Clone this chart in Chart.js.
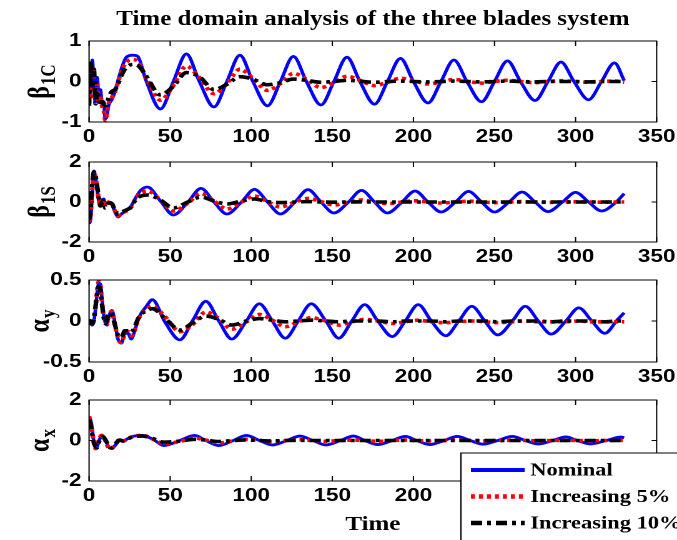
<!DOCTYPE html>
<html>
<head>
<meta charset="utf-8">
<title>Time domain analysis of the three blades system</title>
<script src="https://cdn.jsdelivr.net/npm/chart.js@4.4.1/dist/chart.umd.min.js"></script>
<style>
    html, body { margin: 0; padding: 0; background: #fff; overflow: hidden; }
    /* the original figure is stretched sideways, so draw narrow and widen */
    #stage {
        position: absolute; left: 0; top: 0;
        width: 542px; height: 540px;
        transform-origin: 0 0;
        transform: scaleX(1.2491);
    }
    #stage canvas { position: absolute; left: 0; }
    #title {
        position: absolute; left: 0; top: 7px; width: 597px;
        text-align: center; line-height: 20px;
        font: bold 20px "Liberation Serif", "Times New Roman", serif;
        color: #000; white-space: nowrap;
    }
</style>
</head>
<body>
<div id="stage">
    <div id="title">Time domain analysis of the three blades system</div>
    <canvas id="b1c"></canvas>
    <canvas id="b1s"></canvas>
    <canvas id="ay"></canvas>
    <canvas id="ax"></canvas>
</div>
<script>
const SERIES_NAMES = ['Nominal', 'Increasing 5%', 'Increasing 10%'];

// beta_1C
const T_B1C = [0,1,2,3,4,5,6,7,8,9,10,11,12,14,16,18,20,23,27,30,35,44,52,60,68,77,85,93,101,110,118,126,134,143,151,159,167,176,184,192,200,209,217,225,233,242,250,258,266,275,283,291,299,308,316,324,330];
const B1C_NOM = [-0.5,-0.1,0.53,-0.2,-0.5,0.1,-0.35,-0.2,-0.55,-0.5,-0.92,-0.85,-0.6,-0.45,-0.25,0.05,0.32,0.6,
    0.65,0.62,0.04,-0.68,0,0.68,0,-0.63,0,0.65, 0,-0.6,0,0.62,0,-0.58,0,0.6,0,-0.56,
    0,0.57,0,-0.53,0,0.53,0,-0.5,0,0.51, 0,-0.47,0,0.48,0,-0.45,0,0.46,0.02];
const B1C_5 = [-0.55,0.2,0.35,-0.45,-0.3,-0.1,-0.5,-0.35,-0.6,-0.7,-0.95,-0.8,-0.55,-0.4,-0.25,0,0.25,0.48,
    0.54,0.5,0.12,-0.46,-0.1,0.38,0.1,-0.3,-0.05,0.3, 0.08,-0.22,-0.05,0.2,0.06,-0.15,-0.03,0.13,0.03,-0.1,
    -0.02,0.08,0.02,-0.06,-0.01,0.05,0.01,-0.04,0,0.03, 0,-0.03,0,0.02,0,-0.02,0,0.01,-0.02];
const B1C_10 = [-0.6,0.45,-0.1,0.3,-0.55,-0.3,-0.45,-0.6,-0.5,-0.55,-0.6,-0.55,-0.4,-0.25,-0.2,-0.05,0.15,0.35,
    0.42,0.4,0.15,-0.33,-0.12,0.22,0.12,-0.2,-0.07,0.12, 0.06,-0.08,-0.03,0.06,0.03,-0.02,0,0.03,0.01,-0.02,
    0,0.01,0,-0.01,0,0.01,0,-0.01,0,0.01, 0,-0.01,0,0,0,-0.01,0,0,0];

// beta_1S
const T_B1S = [0,1,2,3,4,5,6,7,8,9,10,11,12,14,16,18,20,23,26,29,32,36,44,52,61,69,77,85,94,102,110,118,127,135,143,151,160,168,176,184,193,201,209,217,226,234,242,250,259,267,275,283,292,300,308,316,325,330];
const B1S_NOM = [-1.1,-0.8,0.5,1.55,1.2,0.6,0.05,-0.1,0.1,0.15,-0.15,-0.05,0,-0.05,-0.5,-0.75,-0.6,-0.42,-0.2,0.25,0.6,
    0.75,0.05,-0.65,0,0.68,0,-0.6,0,0.63,0, -0.6,0,0.62,0,-0.55,0,0.58,0,-0.55,0,
    0.55,0,-0.5,0,0.53,0,-0.5,0,0.5,0, -0.48,0,0.48,0,-0.45,0,0.42];
const B1S_5 = [-1.0,-0.6,0.6,1.45,1.25,0.7,0.1,-0.15,0.05,0.1,-0.2,-0.1,0,-0.05,-0.45,-0.7,-0.55,-0.45,-0.25,0.2,0.45,
    0.55,0.1,-0.45,-0.05,0.42,0.05,-0.35,0,0.3,0.02, -0.25,0,0.18,0.02,-0.15,0,0.1,0,-0.08,0,
    0.06,0,-0.05,0,0.04,0,-0.03,0,0.02,0, -0.02,0,0.01,0,-0.01,0,0];
const B1S_10 = [-0.9,-0.3,0.9,1.5,1.3,0.8,0.2,-0.2,0,0.05,-0.3,-0.2,-0.05,-0.1,-0.4,-0.6,-0.5,-0.4,-0.25,0.15,0.3,
    0.35,0.1,-0.3,0,0.25,0.05,-0.1,0.05,0.15,0.02, -0.03,0,0.02,0,-0.01,0,0.01,0,0,0,
    0,0,0,0,0,0,0,0,0,0, 0,0,0,0,0,0,0];

// alpha_y
const T_AY = [0,1,2,3,4,5,6,7,8,9,10,11,12,13,14,15,16,18,20,22,24,26,28,30,32,35,39,47,56,64,72,80,88,97,105,113,121,129,137,146,154,162,170,178,187,195,203,211,220,228,236,244,252,261,269,277,285,294,302,310,318,326,330];
const AY_NOM = [0,-0.03,-0.05,0,0.15,0.34,0.46,0.45,0.26,0.08,-0.02,-0.05,0.04,0.1,0.13,0.08,-0.03,-0.23,-0.27,-0.15,-0.15,-0.22,-0.13,0,0.09,0.17,
    0.26,-0.02,-0.23,0.01,0.24,0,-0.22,0,0.21,0, -0.21,0,0.21,0,-0.21,0,0.2,0,-0.19,0,
    0.2,0,-0.18,0,0.18,0,-0.17,0,0.18,0, -0.16,0,0.16,0,-0.15,0.02,0.1];
const AY_5 = [0,-0.02,-0.04,0.02,0.18,0.38,0.48,0.44,0.22,0.05,-0.03,-0.03,0.06,0.1,0.12,0.05,-0.05,-0.22,-0.26,-0.16,-0.13,-0.18,-0.12,0,0.08,0.14,
    0.18,0.05,-0.13,-0.04,0.11,0.03,-0.1,-0.01,0.08,0.01, -0.07,-0.01,0.04,0,-0.05,-0.01,0.02,0,-0.03,-0.01,
    0.01,-0.01,-0.02,-0.01,0,-0.01,-0.02,-0.01,0,-0.01, -0.01,-0.01,0,-0.01,-0.01,-0.01,-0.01];
const AY_10 = [0.02,-0.02,-0.03,0.03,0.18,0.33,0.42,0.38,0.2,0.05,-0.03,0.02,0.08,0.1,0.08,0.02,-0.05,-0.18,-0.2,-0.12,-0.12,-0.14,-0.08,0.02,0.08,0.12,
    0.15,0.03,-0.11,-0.02,0.06,0.02,-0.05,0,0.03,0.01, -0.01,0,0.01,0,-0.01,0,0,0,-0.01,0,
    0,0,-0.01,0,0,0,-0.01,0,0,0, -0.01,0,0,0,-0.01,0,0];

// alpha_x
const T_AX = [0,1,2,3,4,5,6,7,8,9,10,11,12,13,14,15,16,17,18,19,21,23,27,33,40,46,56,65,72,80,89,97,105,113,122,130,138,146,155,163,170,178,187,195,202,210,219,227,235,243,252,261,269,277,286,294,301,309,319,328,330];
const AX_NOM = [1.1,1.0,0.5,-0.1,-0.35,-0.3,-0.05,0.15,0.22,0.2,0.05,-0.15,-0.3,-0.38,-0.4,-0.35,-0.25,-0.15,-0.05,0,-0.05,0.05,0.2,
    0.25,0.03,-0.25,0,0.25,0,-0.25,0,0.25,0, -0.22,0,0.22,0,-0.22,0,0.22,0,-0.2,0,
    0.2,0,-0.2,0,0.2,0,-0.18,0,0.2,0, -0.17,0,0.18,0,-0.17,0,0.17,0.14];
const AX_5 = [1.2,0.9,0.4,-0.15,-0.4,-0.3,0,0.2,0.25,0.15,0,-0.2,-0.35,-0.42,-0.4,-0.3,-0.2,-0.1,-0.03,0,-0.03,0.05,0.2,
    0.25,0.05,-0.15,-0.05,0.12,0.02,-0.12,-0.02,0.06,0, -0.05,0,0.04,0,-0.04,0,0.02,0,-0.04,0,
    0.02,0,-0.02,0,0.02,0,-0.02,0,0.01,0, -0.02,0,0.01,0,-0.02,0,0.01,0];
const AX_10 = [1.0,0.8,0.3,-0.1,-0.3,-0.35,-0.1,0.1,0.2,0.15,0.05,-0.1,-0.25,-0.35,-0.35,-0.3,-0.2,-0.1,0,0.02,-0.02,0.05,0.18,
    0.22,0.08,-0.08,-0.03,0.06,0.02,-0.05,0,0.03,0, -0.02,0,0.01,0,0,0,0,0,0,0,
    0,0,0,0,0,0,0,0,0,0, 0,0,0,0,0,0,0,0];

const SERIF = '"Liberation Serif", "Times New Roman", serif';
const SANS = '"Liberation Sans", Arial, sans-serif';

// line looks for the three cases (MATLAB: solid blue, dotted red, dash-dot black)
const STYLES = [
    { color: '#0000ff', width: 2.8, dash: [], legendWidth: 4 },
    { color: '#ff0000', width: 3.6, dash: [3.2, 3.2], legendWidth: 4.5 },
    { color: '#000000', width: 3.6, dash: [9, 4, 3, 4], legendWidth: 4.5 }
];

// MATLAB style box: full frame, inward ticks on all sides, rotated label with subscript
const matlabAxes = {
    id: 'matlabAxes',
    afterDatasetsDraw(chart, args, opts) {
        const { ctx, chartArea: a, scales } = chart;
        const x = scales.x, y = scales.y;
        ctx.save();
        ctx.strokeStyle = '#000';
        ctx.lineWidth = 1;
        ctx.setLineDash([]);
        ctx.strokeRect(a.left, a.top, a.right - a.left, a.bottom - a.top);
        ctx.beginPath();
        x.ticks.forEach(t => {
            const px = x.getPixelForValue(t.value);
            ctx.moveTo(px, a.bottom); ctx.lineTo(px, a.bottom - 5);
            ctx.moveTo(px, a.top); ctx.lineTo(px, a.top + 5);
        });
        y.ticks.forEach(t => {
            const py = y.getPixelForValue(t.value);
            ctx.moveTo(a.left, py); ctx.lineTo(a.left + 4, py);
            ctx.moveTo(a.right, py); ctx.lineTo(a.right - 4, py);
        });
        ctx.stroke();

        // y label, e.g. beta with subscript 1C
        const mainFont = 'bold 24px ' + SERIF;
        const subFont = 'bold 17px ' + SERIF;
        ctx.translate(opts.labelX, (a.top + a.bottom) / 2);
        ctx.rotate(-Math.PI / 2);
        ctx.fillStyle = '#000';
        ctx.textBaseline = 'alphabetic';
        ctx.textAlign = 'left';
        ctx.font = mainFont;
        const w1 = ctx.measureText(opts.main).width;
        ctx.font = subFont;
        const w2 = ctx.measureText(opts.sub).width;
        const x0 = -(w1 + w2 + 1) / 2;
        ctx.font = mainFont;
        ctx.fillText(opts.main, x0, 0);
        ctx.font = subFont;
        ctx.fillText(opts.sub, x0 + w1 + 1, 5);
        ctx.restore();
    }
};

// boxed legend sitting over the lower right corner
const boxLegend = {
    id: 'boxLegend',
    afterDraw(chart, args, opts) {
        if (!opts.show) return;
        const ctx = chart.ctx;
        ctx.save();
        ctx.fillStyle = '#fff';
        ctx.fillRect(opts.x, opts.y, 300, 200);
        ctx.strokeStyle = '#000';
        ctx.lineWidth = 1;
        ctx.strokeRect(opts.x, opts.y, 300, 200);
        chart.data.datasets.forEach((ds, i) => {
            const yy = opts.y + opts.first + i * opts.gap;
            ctx.beginPath();
            ctx.strokeStyle = ds.borderColor;
            ctx.lineWidth = STYLES[i].legendWidth;
            ctx.setLineDash(ds.borderDash);
            ctx.moveTo(opts.x + 8, yy);
            ctx.lineTo(opts.x + 51, yy);
            ctx.stroke();
            ctx.setLineDash([]);
            ctx.fillStyle = '#000';
            ctx.font = 'bold 18px ' + SERIF;
            ctx.textBaseline = 'middle';
            ctx.fillText(ds.label, opts.x + 55.5, yy + 1);
        });
        ctx.restore();
    }
};

function toPoints(times, values) {
    if (times.length !== values.length) console.warn('length mismatch', times.length, values.length);
    return times.map((t, i) => ({ x: t, y: values[i] }));
}

// top / bottom of each plot box in page pixels, and the room for the x axis
function makePanel(id, top, bottom, axisH, times, series, yMin, yMax, yStep, main, sub, extra) {
    const canvas = document.getElementById(id);
    const padTop = 10;
    const h = padTop + (bottom - top) + axisH;
    canvas.width = 542;
    canvas.height = h;
    canvas.style.width = '542px';
    canvas.style.height = h + 'px';
    canvas.style.top = (top - padTop) + 'px';
    extra = extra || {};

    return new Chart(canvas, {
        type: 'line',
        data: {
            datasets: series.map((vals, i) => ({
                label: SERIES_NAMES[i],
                data: toPoints(times, vals),
                borderColor: STYLES[i].color,
                borderWidth: STYLES[i].width,
                borderDash: STYLES[i].dash,
                pointRadius: 0,
                fill: false,
                cubicInterpolationMode: 'monotone',
                order: 3 - i
            }))
        },
        options: {
            responsive: false,
            devicePixelRatio: 2,
            animation: false,
            events: [],
            layout: { padding: { top: padTop, left: 0, right: 16.3, bottom: 0 } },
            plugins: {
                legend: { display: false },
                tooltip: { enabled: false },
                matlabAxes: { main: main, sub: sub, labelX: 39 },
                boxLegend: extra.legend || { show: false }
            },
            scales: {
                x: {
                    type: 'linear',
                    min: 0,
                    max: 350,
                    grid: { display: false, drawTicks: false },
                    border: { display: false },
                    ticks: {
                        stepSize: 50,
                        autoSkip: false,
                        maxRotation: 0,
                        padding: 4,
                        color: '#000',
                        font: { family: SANS, size: 18, weight: 'bold' }
                    },
                    title: extra.xTitle || { display: false },
                    afterFit(scale) {
                        scale.height = axisH;
                        scale.paddingLeft = 0;
                        scale.paddingRight = 0;
                    }
                },
                y: {
                    min: yMin,
                    max: yMax,
                    grid: { display: false, drawTicks: false },
                    border: { display: false },
                    ticks: {
                        stepSize: yStep,
                        padding: 6,
                        color: '#000',
                        font: { family: SANS, size: 18, weight: 'bold' }
                    },
                    afterFit(scale) {
                        scale.width = 71.3;
                        scale.paddingTop = 0;
                        scale.paddingBottom = 0;
                    }
                }
            }
        },
        plugins: [matlabAxes, boxLegend]
    });
}

makePanel('b1c', 41, 122, 30, T_B1C, [B1C_NOM, B1C_5, B1C_10], -1, 1, 1, 'β', '1C');
makePanel('b1s', 162, 242, 30, T_B1S, [B1S_NOM, B1S_5, B1S_10], -2, 2, 2, 'β', '1S');
makePanel('ay', 280, 362, 30, T_AY, [AY_NOM, AY_5, AY_10], -0.5, 0.5, 0.5, 'α', 'y');
makePanel('ax', 400, 481, 59, T_AX, [AX_NOM, AX_5, AX_10], -2, 2, 2, 'α', 'x', {
    xTitle: {
        display: true,
        text: 'Time',
        color: '#000',
        font: { family: SERIF, size: 20, weight: 'bold' },
        padding: { top: 0, bottom: 3 }
    },
    legend: { show: true, x: 369, y: 63, first: 17, gap: 26.5 }
});
</script>
</body>
</html>
